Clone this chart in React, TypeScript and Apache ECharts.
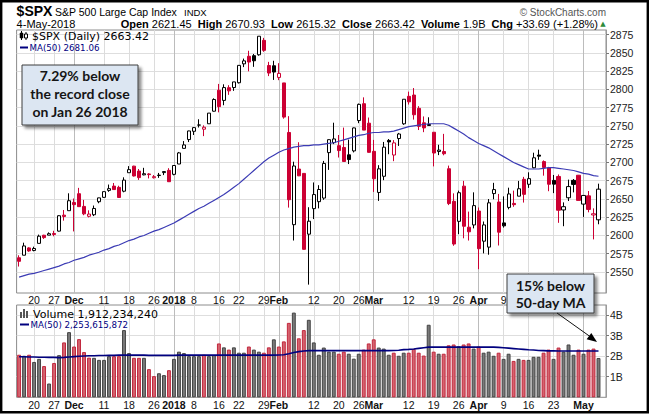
import React, { useEffect, useRef } from 'react';
import * as echarts from 'echarts';

// ---------- DATA ----------
const dates = [
  '2017-11-15','2017-11-16','2017-11-17','2017-11-20','2017-11-21','2017-11-22','2017-11-24','2017-11-27','2017-11-28','2017-11-29','2017-11-30',
  '2017-12-01','2017-12-04','2017-12-05','2017-12-06','2017-12-07','2017-12-08','2017-12-11','2017-12-12','2017-12-13','2017-12-14','2017-12-15','2017-12-18','2017-12-19','2017-12-20','2017-12-21','2017-12-22','2017-12-26','2017-12-27','2017-12-28','2017-12-29',
  '2018-01-02','2018-01-03','2018-01-04','2018-01-05','2018-01-08','2018-01-09','2018-01-10','2018-01-11','2018-01-12','2018-01-16','2018-01-17','2018-01-18','2018-01-19','2018-01-22','2018-01-23','2018-01-24','2018-01-25','2018-01-26','2018-01-29','2018-01-30','2018-01-31',
  '2018-02-01','2018-02-02','2018-02-05','2018-02-06','2018-02-07','2018-02-08','2018-02-09','2018-02-12','2018-02-13','2018-02-14','2018-02-15','2018-02-16','2018-02-20','2018-02-21','2018-02-22','2018-02-23','2018-02-26','2018-02-27','2018-02-28',
  '2018-03-01','2018-03-02','2018-03-05','2018-03-06','2018-03-07','2018-03-08','2018-03-09','2018-03-12','2018-03-13','2018-03-14','2018-03-15','2018-03-16','2018-03-19','2018-03-20','2018-03-21','2018-03-22','2018-03-23','2018-03-26','2018-03-27','2018-03-28','2018-03-29',
  '2018-04-02','2018-04-03','2018-04-04','2018-04-05','2018-04-06','2018-04-09','2018-04-10','2018-04-11','2018-04-12','2018-04-13','2018-04-16','2018-04-17','2018-04-18','2018-04-19','2018-04-20','2018-04-23','2018-04-24','2018-04-25','2018-04-26','2018-04-27','2018-04-30',
  '2018-05-01','2018-05-02','2018-05-03','2018-05-04',
];

const opens = [
  2569.45,2572.95,2582.94,2579.49,2589.17,2600.31,2600.42,2602.66,2605.94,2627.82,2633.93,
  2645.10,2657.19,2639.78,2626.24,2628.38,2646.21,2652.19,2661.73,2667.59,2665.87,2660.63,2685.92,2694.96,2688.18,2683.02,2684.22,2679.09,2682.10,2686.10,2689.15,
  2683.73,2697.85,2719.31,2731.33,2742.67,2751.15,2745.55,2752.97,2770.18,2798.96,2784.99,2802.40,2802.60,2809.16,2835.05,2845.42,2846.24,2847.48,2867.23,2832.74,2832.41,
  2816.45,2808.92,2741.06,2614.78,2690.95,2685.01,2601.78,2636.75,2646.27,2651.21,2713.46,2727.14,2722.99,2720.53,2710.42,2715.80,2757.37,2780.45,2753.78,
  2715.22,2658.89,2681.06,2730.18,2710.18,2732.75,2752.91,2790.54,2792.31,2774.06,2754.27,2750.57,2741.38,2715.05,2714.99,2691.36,2646.71,2619.35,2667.57,2611.30,2614.41,
  2633.45,2592.17,2584.04,2657.36,2645.82,2617.18,2638.41,2643.89,2653.83,2676.90,2670.10,2692.74,2710.11,2701.16,2692.56,2675.40,2680.80,2634.92,2651.65,2675.47,2682.51,
  2642.96,2654.24,2628.08,2621.45,
];

const highs = [
  2572.84,2590.09,2583.96,2584.64,2601.19,2600.94,2604.21,2606.41,2627.69,2634.89,2657.74,
  2650.62,2665.19,2648.72,2634.41,2640.99,2651.65,2660.33,2669.72,2671.88,2668.09,2679.63,2694.97,2695.44,2691.01,2692.64,2685.35,2682.74,2685.64,2687.66,2692.12,
  2695.89,2714.37,2729.29,2743.45,2748.51,2759.14,2750.80,2767.56,2787.85,2807.54,2807.04,2805.83,2810.33,2833.03,2842.24,2852.97,2848.56,2872.87,2870.62,2837.75,2839.26,
  2835.96,2808.92,2763.39,2701.04,2727.67,2685.27,2638.67,2672.61,2668.84,2702.10,2731.51,2754.42,2737.60,2747.75,2731.26,2747.76,2780.64,2789.15,2761.52,
  2730.89,2696.25,2728.09,2732.08,2730.60,2740.45,2786.57,2796.98,2801.90,2777.11,2763.03,2761.85,2741.38,2724.22,2739.14,2695.68,2657.67,2661.36,2674.78,2632.65,2659.07,
  2638.30,2619.14,2649.86,2672.08,2656.88,2653.55,2665.45,2661.43,2674.72,2680.26,2686.49,2713.34,2717.49,2702.84,2693.94,2682.86,2683.55,2645.30,2676.48,2677.35,2682.87,
  2655.27,2660.87,2637.14,2670.93,
];

const lows = [
  2557.45,2572.95,2577.62,2578.24,2589.17,2595.23,2600.42,2598.87,2605.44,2620.32,2633.93,
  2605.52,2639.03,2627.73,2624.75,2626.53,2644.10,2651.47,2659.78,2662.85,2652.01,2659.14,2685.92,2680.74,2676.11,2682.40,2678.13,2677.96,2678.91,2682.69,2673.61,
  2682.36,2697.77,2719.07,2727.92,2737.60,2747.86,2736.06,2752.78,2769.64,2768.64,2778.38,2792.56,2798.08,2808.12,2830.59,2824.81,2830.94,2846.18,2851.48,2818.27,2813.04,
  2812.70,2759.97,2638.17,2593.07,2681.33,2580.56,2532.69,2622.45,2637.08,2648.87,2689.82,2725.11,2706.76,2701.29,2697.77,2713.74,2753.78,2744.22,2713.54,
  2659.65,2647.32,2675.75,2711.26,2701.74,2722.65,2751.54,2779.26,2758.68,2744.38,2741.47,2749.97,2694.59,2710.05,2709.79,2641.59,2585.89,2601.81,2596.12,2593.06,2609.72,
  2553.80,2575.49,2573.61,2649.58,2586.27,2610.79,2635.78,2639.25,2653.83,2645.05,2665.16,2692.05,2703.63,2681.90,2660.61,2657.99,2617.32,2612.67,2647.16,2659.01,2648.04,
  2625.41,2631.70,2594.62,2615.32,
];

const closes = [
  2564.62,2585.64,2578.85,2582.14,2599.03,2597.08,2602.42,2601.42,2627.04,2626.07,2647.58,
  2642.22,2639.44,2629.57,2629.27,2636.98,2651.50,2659.99,2664.11,2662.85,2652.01,2675.81,2690.16,2681.47,2679.25,2684.57,2683.34,2680.50,2682.62,2687.54,2673.61,
  2695.81,2713.06,2723.99,2743.15,2747.71,2751.29,2748.23,2767.56,2786.24,2776.42,2802.56,2798.03,2810.30,2832.97,2839.13,2837.54,2839.25,2872.87,2853.53,2822.43,2823.81,
  2821.98,2762.13,2648.94,2695.14,2681.66,2581.00,2619.55,2656.00,2662.94,2698.63,2731.20,2732.22,2716.26,2701.33,2703.96,2747.30,2779.60,2744.28,2713.83,
  2677.67,2691.25,2720.94,2728.12,2726.80,2738.97,2786.57,2783.02,2765.31,2749.48,2747.33,2752.01,2712.92,2716.94,2711.93,2643.69,2588.26,2658.55,2612.62,2605.00,2640.87,
  2581.88,2614.45,2644.69,2662.84,2604.47,2613.16,2656.87,2642.19,2663.99,2656.30,2677.84,2706.39,2708.64,2693.13,2670.14,2670.29,2634.56,2639.40,2666.94,2669.91,2648.05,
  2654.80,2635.67,2629.73,2663.42,
];

const priorClose = 2578.87; // close of the session before the first bar

// volume in billions of shares
const volumesB = [
  2.07,2.02,2.07,1.72,1.87,1.52,0.67,1.67,2.05,2.67,3.17,
  2.47,2.83,2.20,1.93,1.92,1.82,1.82,2.00,2.00,2.00,3.27,2.15,1.92,1.92,1.92,1.37,1.03,1.17,1.08,1.32,
  1.87,2.22,2.15,2.00,2.00,2.00,2.07,2.00,2.05,2.62,2.43,2.32,2.43,2.17,2.17,2.47,2.32,2.22,2.17,2.43,2.82,
  2.47,2.72,3.62,4.12,2.87,3.27,3.77,2.67,2.07,2.42,2.22,2.22,2.12,2.22,2.12,1.88,2.12,2.32,2.62,
  2.82,2.42,2.37,2.07,2.17,2.02,2.17,2.17,2.35,2.17,2.03,3.53,2.22,2.12,2.12,2.53,2.57,2.48,2.57,2.62,2.37,
  2.47,2.17,2.22,2.02,2.17,1.87,2.12,1.77,1.87,1.82,1.82,1.97,1.97,2.17,2.32,1.87,2.42,2.22,2.57,2.07,2.32,
  2.12,2.32,2.37,1.91223424,
];

const priceMA50 = [
  2543,2545,2547,2548,2550,2552,2554,2556,2558,2561,2563,
  2566,2568,2570,2573,2575,2577,2580,2582,2585,2587,2590,2593,2595,2598,2600,2603,2606,2608,2611,2614,
  2617,2621,2625,2629,2633,2637,2640,2644,2648,2652,2656,2661,2666,2671,2677,2683,2689,2695,2701,2706,2710,
  2714,2717,2719,2721,2722,2723,2723,2724,2724,2725,2726,2727,2729,2731,2733,2735,2737,2738,2740,
  2741,2741,2742,2742,2743,2745,2747,2749,2750,2751,2752,2753,2753,2753,2753,2751,2747,2743,2739,2734,2730,
  2726,2723,2720,2716,2712,2708,2704,2700,2697,2694,2691,2691,2691,2692,2693,2693,2692,2691,2690,2689,2687,
  2685,2684,2682,2681.06,
];

const volumeMA50B = [
  1.97,1.97,1.96,1.96,1.95,1.95,1.94,1.94,1.93,1.94,1.96,
  1.98,2.00,2.01,2.02,2.02,2.03,2.03,2.04,2.04,2.05,2.05,2.05,2.05,2.05,2.05,2.04,2.04,2.04,2.04,2.04,
  2.04,2.05,2.05,2.05,2.05,2.05,2.05,2.05,2.05,2.05,2.05,2.05,2.05,2.05,2.05,2.05,2.05,2.05,2.05,2.05,2.05,
  2.06,2.07,2.12,2.18,2.22,2.25,2.27,2.27,2.27,2.27,2.27,2.27,2.27,2.27,2.27,2.27,2.27,2.27,2.27,
  2.27,2.27,2.27,2.27,2.28,2.29,2.32,2.33,2.35,2.38,2.41,2.44,2.44,2.44,2.44,2.44,2.44,2.44,2.44,2.44,2.44,
  2.44,2.44,2.44,2.44,2.43,2.41,2.39,2.37,2.35,2.33,2.31,2.30,2.28,2.27,2.26,2.26,2.25,2.25,2.25,2.25,2.25,
  2.25,2.25,2.25,2.2536,
];

const xTickDates = ['2017-11-20','2017-11-27','2017-12-01','2017-12-11','2017-12-18','2017-12-26','2018-01-02','2018-01-08','2018-01-16','2018-01-22','2018-01-29','2018-02-01','2018-02-12','2018-02-20','2018-02-26','2018-03-01','2018-03-12','2018-03-19','2018-03-26','2018-04-02','2018-04-09','2018-04-16','2018-04-23','2018-05-01'];
const xTickLabels = ['20','27','Dec','11','18','26','2018','8','16','22','29','Feb','12','20','26','Mar','12','19','26','Apr','9','16','23','May'];
const xTickMajor = [false,false,true,false,false,false,true,false,false,false,false,true,false,false,false,true,false,false,false,true,false,false,false,true];
// upper date row: the last labels sit under the "15% below" note box in the reference
const upperRowHidden = ['2018-04-16','2018-04-23','2018-05-01'];

const priceTicks = [2550,2575,2600,2625,2650,2675,2700,2725,2750,2775,2800,2825,2850,2875];
const volumeTicksB = [1,2,3,4];

// ---------- STYLE ----------
const ARIAL = '"Liberation Sans", Arial, Helvetica, sans-serif';
const DEJAVU = '"DejaVu Sans", Verdana, sans-serif';
const LATO = 'Lato, "Open Sans", sans-serif';
const RED = '#cc0033';

export default function App() {
  const ref = useRef<HTMLDivElement>(null);

  useEffect(() => {
    document.body.style.margin = '0';
    const chart = echarts.init(ref.current as HTMLDivElement, null, { renderer: 'svg', width: 650, height: 415 });

    const candleData = dates.map((_, i) => {
      const prev = i === 0 ? priorClose : closes[i - 1];
      const o = opens[i];
      const c = closes[i];
      const col = c >= prev ? '#000000' : RED;
      const fill = c > o ? '#ffffff' : col;
      return {
        value: [o, c, lows[i], highs[i]],
        itemStyle: { color: fill, color0: fill, borderColor: col, borderColor0: col },
      };
    });

    const volData = volumesB.map((v, i) => {
      const prev = i === 0 ? priorClose : closes[i - 1];
      const up = closes[i] >= prev;
      return {
        value: v,
        itemStyle: {
          color: up ? '#7a7a7a' : '#d4646f',
          borderColor: up ? '#444444' : '#c2283e',
          borderWidth: 1,
        },
      };
    });

    const vLines = xTickDates.map((d, k) => ({
      xAxis: d,
      lineStyle: { color: xTickMajor[k] ? '#bcbcbc' : '#dcdcdc', width: 1, type: 'solid' },
    }));

    const xLabel = (margin: number, hidden: string[]) => {
      const shown = new Set(xTickDates.filter((d) => hidden.indexOf(d) < 0));
      return {
        interval: (_i: number, v: string) => shown.has(v),
        formatter: (v: string) => {
          const k = xTickDates.indexOf(v);
          if (k < 0) return '';
          return xTickMajor[k] ? `{b|${xTickLabels[k]}}` : xTickLabels[k];
        },
        margin,
        fontSize: 10.5,
        color: '#111',
        fontFamily: ARIAL,
        rich: { b: { fontWeight: 'bold', fontSize: 10.5, color: '#111', fontFamily: ARIAL } },
      };
    };

    const option: any = {
      animation: false,
      backgroundColor: '#ffffff',
      grid: [
        { left: 16.6, top: 30, width: 589.4, height: 263, show: true, borderColor: '#8c8c8c', borderWidth: 1, backgroundColor: '#fff' },
        { left: 16.6, top: 305, width: 589.4, height: 92.3, show: true, borderColor: '#8c8c8c', borderWidth: 1, backgroundColor: '#fff' },
      ],
      xAxis: [
        {
          gridIndex: 0, type: 'category', data: dates, max: dates.length, boundaryGap: true,
          axisLine: { show: false }, axisTick: { show: false }, splitLine: { show: false },
          axisLabel: xLabel(1, upperRowHidden),
        },
        {
          gridIndex: 1, type: 'category', data: dates, max: dates.length, boundaryGap: true,
          axisLine: { show: false }, axisTick: { show: false }, splitLine: { show: false },
          axisLabel: xLabel(2, []),
        },
      ],
      yAxis: [
        {
          gridIndex: 0, type: 'value', position: 'right', min: 2521.2, max: 2881.4, scale: true,
          axisLine: { show: true, lineStyle: { color: '#9a9a9a' } },
          axisTick: { show: true, length: 3, customValues: priceTicks, lineStyle: { color: '#777' } },
          axisLabel: { customValues: priceTicks, margin: 4, fontSize: 10.5, color: '#222', fontFamily: ARIAL, formatter: (v: number) => String(v) },
          splitLine: { show: true, lineStyle: { color: '#dedede', width: 1 } },
        },
        {
          gridIndex: 1, type: 'value', position: 'right', min: 0, max: 4.49, interval: 1,
          axisLine: { show: true, lineStyle: { color: '#9a9a9a' } },
          axisTick: { show: true, length: 3, customValues: volumeTicksB, lineStyle: { color: '#777' } },
          axisLabel: { customValues: volumeTicksB, margin: 4, fontSize: 10.5, color: '#222', fontFamily: ARIAL, formatter: (v: number) => `${v}B` },
          splitLine: { show: true, lineStyle: { color: '#dedede', width: 1 } },
        },
      ],
      series: [
        {
          type: 'candlestick', xAxisIndex: 0, yAxisIndex: 0, data: candleData, barWidth: 3.6, z: 3,
          itemStyle: { borderWidth: 1 },
          markLine: { silent: true, symbol: ['none', 'none'], label: { show: false }, z: 1, data: vLines, emphasis: { disabled: true } },
        },
        {
          type: 'line', xAxisIndex: 0, yAxisIndex: 0, data: priceMA50, showSymbol: false, z: 4,
          lineStyle: { color: '#3b3bb4', width: 1.2 }, silent: true,
        },
        {
          type: 'bar', xAxisIndex: 1, yAxisIndex: 1, data: volData, barWidth: 3.9, z: 3,
          markLine: { silent: true, symbol: ['none', 'none'], label: { show: false }, z: 1, data: vLines, emphasis: { disabled: true } },
        },
        {
          type: 'line', xAxisIndex: 1, yAxisIndex: 1, data: volumeMA50B, showSymbol: false, z: 4,
          lineStyle: { color: '#00007f', width: 1.6 }, silent: true,
        },
      ],
      graphic: [
        // header
        { type: 'text', x: 16.6, y: 11, z: 50, style: { text: '$SPX', fontSize: 14, fontWeight: 'bold', fontFamily: ARIAL, fill: '#000', verticalAlign: 'middle' } },
        { type: 'text', x: 55, y: 12, z: 50, style: { text: 'S&P 500 Large Cap Index', fontSize: 10.5, fontFamily: ARIAL, fill: '#000', verticalAlign: 'middle' } },
        { type: 'text', x: 184, y: 12, z: 50, style: { text: 'INDX', fontSize: 9.5, fontFamily: ARIAL, fill: '#000', verticalAlign: 'middle' } },
        { type: 'text', x: 606, y: 12, z: 50, style: { text: '© StockCharts.com', fontSize: 10, fontFamily: ARIAL, fill: '#555', align: 'right', verticalAlign: 'middle' } },
        { type: 'text', x: 16.6, y: 24, z: 50, style: { text: '4-May-2018', fontSize: 11, fontFamily: ARIAL, fill: '#000', verticalAlign: 'middle' } },
        {
          type: 'text', x: 598, y: 24, z: 50,
          style: {
            text: '{b|Open} 2621.45  {b|High} 2670.93  {b|Low} 2615.32  {b|Close} 2663.42  {b|Volume} 1.9B  {b|Chg} +33.69 (+1.28%)',
            fontSize: 11, fontFamily: ARIAL, fill: '#000', align: 'right', verticalAlign: 'middle',
            rich: { b: { fontWeight: 'bold', fontSize: 11, fontFamily: ARIAL, fill: '#000' } },
          },
        },
        { type: 'text', x: 603, y: 24, z: 50, style: { text: '▲', fontSize: 7, fontFamily: DEJAVU, fill: '#2e8b3a', align: 'center', verticalAlign: 'middle' } },

        // price legend
        { type: 'line', z: 50, shape: { x1: 21.5, y1: 31, x2: 21.5, y2: 40 }, style: { stroke: '#000', lineWidth: 1 } },
        { type: 'rect', z: 51, shape: { x: 20, y: 33, width: 3, height: 5 }, style: { fill: '#000', stroke: '#000', lineWidth: 0.5 } },
        { type: 'line', z: 50, shape: { x1: 26, y1: 32, x2: 26, y2: 40 }, style: { stroke: '#000', lineWidth: 1 } },
        { type: 'rect', z: 51, shape: { x: 24.5, y: 34, width: 3, height: 4 }, style: { fill: '#fff', stroke: '#000', lineWidth: 1 } },
        { type: 'text', x: 32, y: 36, z: 50, style: { text: '$SPX (Daily) 2663.42', fontSize: 11, fontFamily: DEJAVU, fill: '#000', verticalAlign: 'middle' } },
        { type: 'line', z: 50, shape: { x1: 20, y1: 47.5, x2: 28, y2: 47.5 }, style: { stroke: '#00007f', lineWidth: 2 } },
        { type: 'text', x: 29.5, y: 47.5, z: 50, style: { text: 'MA(50) 2681.06', fontSize: 8.7, fontFamily: DEJAVU, fill: '#00007f', verticalAlign: 'middle' } },

        // volume legend
        { type: 'rect', z: 50, shape: { x: 20, y: 312, width: 2, height: 6 }, style: { fill: '#555' } },
        { type: 'rect', z: 50, shape: { x: 23, y: 309, width: 2, height: 9 }, style: { fill: '#555' } },
        { type: 'rect', z: 50, shape: { x: 26, y: 311, width: 2, height: 7 }, style: { fill: '#555' } },
        { type: 'text', x: 33, y: 314, z: 50, style: { text: 'Volume 1,912,234,240', fontSize: 11, fontFamily: DEJAVU, fill: '#000', verticalAlign: 'middle' } },
        { type: 'line', z: 50, shape: { x1: 20, y1: 324.5, x2: 29, y2: 324.5 }, style: { stroke: '#00007f', lineWidth: 2 } },
        { type: 'text', x: 30.5, y: 325, z: 50, style: { text: 'MA(50) 2,253,615,872', fontSize: 8.7, fontFamily: DEJAVU, fill: '#00007f', verticalAlign: 'middle' } },

        // annotation 1
        {
          type: 'rect', z: 60, shape: { x: 22, y: 65, width: 116, height: 60 },
          style: { fill: '#dce6f2', stroke: '#3c3c3c', lineWidth: 1, shadowBlur: 3, shadowOffsetX: 3, shadowOffsetY: 3, shadowColor: 'rgba(0,0,0,0.45)' },
        },
        { type: 'text', x: 80, y: 75.5, z: 61, style: { text: '7.29% below', fontSize: 14, fontWeight: 'bold', fontFamily: LATO, fill: '#151515', align: 'center', verticalAlign: 'middle' } },
        { type: 'text', x: 80, y: 93.5, z: 61, style: { text: 'the record close', fontSize: 14, fontWeight: 'bold', fontFamily: LATO, fill: '#151515', align: 'center', verticalAlign: 'middle' } },
        { type: 'text', x: 80, y: 111.5, z: 61, style: { text: 'on Jan 26 2018', fontSize: 14, fontWeight: 'bold', fontFamily: LATO, fill: '#151515', align: 'center', verticalAlign: 'middle' } },

        // annotation 2
        {
          type: 'rect', z: 60, shape: { x: 507, y: 274, width: 87, height: 39 },
          style: { fill: '#dce6f2', stroke: '#3c3c3c', lineWidth: 1, shadowBlur: 3, shadowOffsetX: 3, shadowOffsetY: 3, shadowColor: 'rgba(0,0,0,0.45)' },
        },
        { type: 'text', x: 550.5, y: 285, z: 61, style: { text: '15% below', fontSize: 14, fontWeight: 'bold', fontFamily: LATO, fill: '#151515', align: 'center', verticalAlign: 'middle' } },
        { type: 'text', x: 550.5, y: 302.5, z: 61, style: { text: '50-day MA', fontSize: 14, fontWeight: 'bold', fontFamily: LATO, fill: '#151515', align: 'center', verticalAlign: 'middle' } },
        { type: 'line', z: 61, shape: { x1: 557, y1: 313, x2: 590, y2: 336.5 }, style: { stroke: '#111', lineWidth: 1 } },
        { type: 'polygon', z: 61, shape: { points: [[597, 342], [586.6, 339.3], [591.3, 332.9]] }, style: { fill: '#000' } },

        // outer frame
        { type: 'rect', z: 100, shape: { x: 1.2, y: 1.2, width: 646.6, height: 411 }, style: { fill: 'none', stroke: '#000', lineWidth: 2.4 } },
      ],
    };

    chart.setOption(option);
    return () => chart.dispose();
  }, []);

  return <div ref={ref} style={{ position: 'absolute', left: 0, top: 0, width: 650, height: 415, background: '#fff' }} />;
}
